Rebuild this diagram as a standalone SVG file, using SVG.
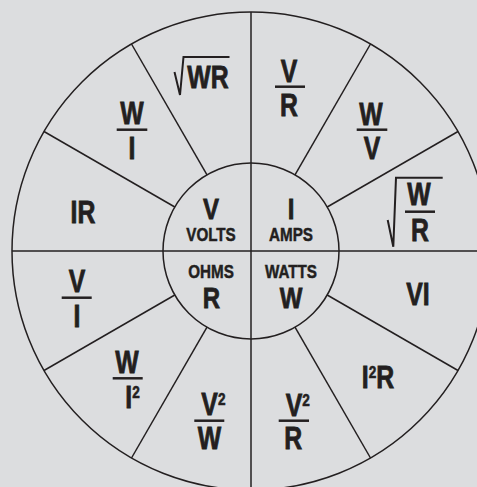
<svg xmlns="http://www.w3.org/2000/svg" width="477" height="487" viewBox="0 0 477 487">
<style>
.ln{stroke:#231f20;stroke-width:1.5;fill:none}
.t{font-family:"Liberation Sans",Arial,sans-serif;font-weight:bold;fill:#231f20;stroke:#231f20;stroke-width:0.8;text-anchor:middle}
.b{font-size:31px}
.m{font-size:30px}
.s{font-size:19px;stroke-width:0.5}
.sup{font-size:17px;stroke-width:0.6}
.bar{stroke:#231f20;stroke-width:2.5}
.rad{stroke:#231f20;stroke-width:2;fill:none;stroke-linejoin:miter}
</style>
<rect width="477" height="487" fill="#dcdddf"/>
<circle cx="251" cy="251" r="239" fill="#f1f1f1" class="ln"/>
<g id="connectors">
<line class="ln" x1="251" y1="12" x2="251" y2="490"/>
<line class="ln" x1="12" y1="251" x2="490" y2="251"/>
<line class="ln" x1="207" y1="174.8" x2="131.5" y2="44"/>
<line class="ln" x1="295" y1="174.8" x2="370.5" y2="44"/>
<line class="ln" x1="174.8" y1="207" x2="44" y2="131.5"/>
<line class="ln" x1="327.2" y1="207" x2="458" y2="131.5"/>
<line class="ln" x1="174.8" y1="295" x2="44" y2="370.5"/>
<line class="ln" x1="327.2" y1="295" x2="458" y2="370.5"/>
<line class="ln" x1="207" y1="327.2" x2="131.5" y2="458"/>
<line class="ln" x1="295" y1="327.2" x2="370.5" y2="458"/>
</g>
<circle cx="251" cy="251" r="88" class="ln"/>
<g id="volts"><text class="t m" transform="translate(211,219) scale(0.8,1)">V</text><text class="t s" transform="translate(211,241) scale(0.8,1)">VOLTS</text></g>
<g id="amps"><text class="t m" transform="translate(291,219) scale(0.8,1)">I</text><text class="t s" transform="translate(291,241) scale(0.8,1)">AMPS</text></g>
<g id="ohms"><text class="t s" transform="translate(211,278) scale(0.8,1)">OHMS</text><text class="t m" transform="translate(211.5,308) scale(0.8,1)">R</text></g>
<g id="watts"><text class="t s" transform="translate(291,278) scale(0.8,1)">WATTS</text><text class="t m" transform="translate(291,308) scale(0.8,1)">W</text></g>
<g id="sqrtWR"><path class="rad" d="M174.5,72 L180,95 L183.5,57 L229.5,57"/><text class="t b" transform="translate(208,88) scale(0.8,1)">WR</text></g>
<g id="VoverR"><text class="t b" transform="translate(289,82) scale(0.8,1)">V</text><line class="bar" x1="275" y1="86.7" x2="305" y2="86.7"/><text class="t b" transform="translate(289,116) scale(0.8,1)">R</text></g>
<g id="WoverV"><text class="t b" transform="translate(371,124.5) scale(0.8,1)">W</text><line class="bar" x1="356.7" y1="129.7" x2="387.3" y2="129.7"/><text class="t b" transform="translate(372,159) scale(0.8,1)">V</text></g>
<g id="WoverI"><text class="t b" transform="translate(132,124) scale(0.8,1)">W</text><line class="bar" x1="116.7" y1="129.7" x2="147.3" y2="129.7"/><text class="t b" transform="translate(132,159) scale(0.8,1)">I</text></g>
<g id="sqrtWoverR"><path class="rad" d="M387.7,220 L393.3,246.7 L396,177.7 L442.7,177.7"/><text class="t b" transform="translate(419,205) scale(0.8,1)">W</text><line class="bar" x1="405" y1="211.7" x2="435" y2="211.7"/><text class="t b" transform="translate(420,240.7) scale(0.8,1)">R</text></g>
<g id="IR"><text class="t b" transform="translate(83,223) scale(0.8,1)">IR</text></g>
<g id="VI"><text class="t b" transform="translate(418,305) scale(0.8,1)">VI</text></g>
<g id="VoverI"><text class="t b" transform="translate(77,292.3) scale(0.8,1)">V</text><line class="bar" x1="61.7" y1="297.7" x2="91.7" y2="297.7"/><text class="t b" transform="translate(77,327.3) scale(0.8,1)">I</text></g>
<g id="WoverI2"><text class="t b" transform="translate(132.5,407.7) scale(0.8,1)">I<tspan class="sup" dy="-10">2</tspan></text><text class="t b" transform="translate(127,372.7) scale(0.8,1)">W</text><line class="bar" x1="112.7" y1="378.3" x2="142.7" y2="378.3"/></g>
<g id="I2R"><text class="t b" transform="translate(378,388) scale(0.8,1)">I<tspan class="sup" dy="-10">2</tspan><tspan dy="10">R</tspan></text></g>
<g id="V2overW"><text class="t b" transform="translate(213.4,415) scale(0.8,1)">V<tspan class="sup" dy="-10">2</tspan></text><line class="bar" x1="194.3" y1="420.7" x2="224.3" y2="420.7"/><text class="t b" transform="translate(209.5,449) scale(0.8,1)">W</text></g>
<g id="V2overR"><text class="t b" transform="translate(297.8,415.7) scale(0.8,1)">V<tspan class="sup" dy="-10">2</tspan></text><line class="bar" x1="278.7" y1="420.7" x2="309" y2="420.7"/><text class="t b" transform="translate(293.3,449) scale(0.8,1)">R</text></g>
</svg>
